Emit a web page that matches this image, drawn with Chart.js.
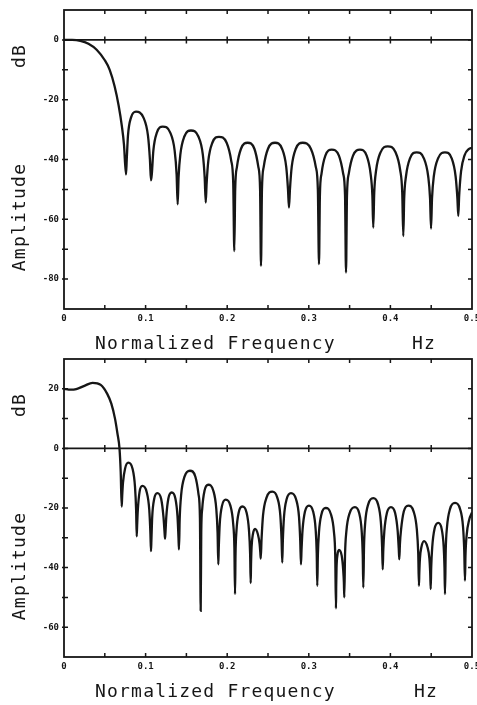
<!DOCTYPE html>
<html><head><meta charset="utf-8">
<script src="https://cdn.jsdelivr.net/npm/chart.js@4"></script>
<style>
html,body{margin:0;padding:0;background:#fff;}
#wrap{position:relative;width:477px;height:705px;overflow:hidden;background:#fff;}
canvas{position:absolute;left:0;}
</style></head><body>
<div id="wrap">
<canvas id="c1" width="477" height="355" style="top:0;width:477px;height:355px"></canvas>
<canvas id="c2" width="477" height="350" style="top:355px;width:477px;height:350px"></canvas>
</div>
<script>
// ---------- data ----------
const xTickLabels = [0, 0.1, 0.2, 0.3, 0.4, 0.5];
const xMinorTicks = [0.05, 0.1, 0.15, 0.2, 0.25, 0.3, 0.35, 0.4, 0.45];

const yTickLabelsTop = [0, -20, -40, -60, -80];
const yMinorTicksTop = [0, -10, -20, -30, -40, -50, -60, -70, -80];
const yTickLabelsBot = [20, 0, -20, -40, -60];
const yMinorTicksBot = [20, 10, 0, -10, -20, -30, -40, -50, -60];

const freqTop = [0, 0.01, 0.02, 0.03, 0.04, 0.05, 0.056, 0.062, 0.067, 0.071, 0.0735,
0.0760, 0.0769, 0.0784, 0.0821, 0.0882, 0.0974, 0.1029, 0.1053,
0.1066, 0.1076, 0.1095, 0.1138, 0.1210, 0.1302, 0.1356, 0.1380,
0.1393, 0.1404, 0.1426, 0.1475, 0.1556, 0.1647, 0.1701, 0.1724,
0.1737, 0.1748, 0.1769, 0.1818, 0.1899, 0.1993, 0.2049, 0.2074,
0.2087, 0.2098, 0.2120, 0.2169, 0.2251, 0.2333, 0.2381, 0.2403,
0.2414, 0.2426, 0.2448, 0.2500, 0.2586, 0.2672, 0.2723, 0.2745,
0.2757, 0.2769, 0.2791, 0.2841, 0.2925, 0.3025, 0.3085, 0.3111,
0.3125, 0.3136, 0.3156, 0.3203, 0.3281, 0.3369, 0.3421, 0.3444,
0.3456, 0.3468, 0.3490, 0.3542, 0.3627, 0.3709, 0.3757, 0.3779,
0.3790, 0.3802, 0.3825, 0.3879, 0.3967, 0.4063, 0.4120, 0.4145,
0.4158, 0.4169, 0.4191, 0.4240, 0.4322, 0.4410, 0.4463, 0.4486,
0.4498, 0.4510, 0.4532, 0.4584, 0.4669, 0.4751, 0.4799, 0.4821,
0.4832, 0.4843, 0.4866, 0.4910, 0.4960, 0.5000];

const dbTop = [0, 0, -0.3, -1.3, -3.3, -6.8, -10, -15.5, -22, -29, -35,
-45, -40, -32, -26, -24, -26, -32, -40,
-47, -45, -37, -31, -29, -31, -37, -45,
-55, -46, -38.3, -32.3, -30.3, -32.3, -38.3, -46,
-54.4, -48, -40.4, -34.4, -32.4, -34.4, -40.4, -48,
-70.6, -50, -42.4, -36.4, -34.4, -36.4, -42.4, -50,
-75.6, -50, -42.4, -36.4, -34.4, -36.4, -42.4, -50,
-56.1, -50, -42.4, -36.4, -34.4, -36.4, -42.4, -50,
-75, -52, -44.7, -38.7, -36.7, -38.7, -44.7, -52,
-77.8, -52, -44.7, -38.7, -36.7, -38.7, -44.7, -52,
-62.8, -51, -43.6, -37.6, -35.6, -37.6, -43.6, -51,
-65.6, -53, -45.6, -39.6, -37.6, -39.6, -45.6, -53,
-63.1, -53, -45.6, -39.6, -37.6, -39.6, -45.6, -53,
-58.9, -52, -44, -38.5, -36.5, -36.1];

const freqBot = [0, 0.008, 0.015, 0.025, 0.035, 0.045, 0.053, 0.058, 0.0625, 0.0655, 0.068, 0.0695,
0.0707, 0.0713, 0.0723, 0.0748, 0.0788, 0.0840, 0.0870, 0.0884,
0.0891, 0.0896, 0.0905, 0.0926, 0.0960, 0.1013, 0.1045, 0.1059,
0.1066, 0.1071, 0.1081, 0.1105, 0.1143, 0.1191, 0.1219, 0.1232,
0.1238, 0.1244, 0.1254, 0.1279, 0.1320, 0.1365, 0.1391, 0.1403,
0.1409, 0.1418, 0.1436, 0.1477, 0.1544, 0.1610, 0.1649, 0.1666,
0.1675, 0.1682, 0.1694, 0.1722, 0.1768, 0.1830, 0.1866, 0.1882,
0.1891, 0.1897, 0.1909, 0.1937, 0.1982, 0.2039, 0.2073, 0.2088,
0.2096, 0.2102, 0.2114, 0.2141, 0.2185, 0.2237, 0.2267, 0.2281,
0.2288, 0.2292, 0.2299, 0.2315, 0.2341, 0.2376, 0.2397, 0.2406,
0.2411, 0.2421, 0.2439, 0.2482, 0.2553, 0.2614, 0.2651, 0.2666,
0.2675, 0.2682, 0.2696, 0.2729, 0.2782, 0.2843, 0.2880, 0.2895,
0.2904, 0.2911, 0.2924, 0.2953, 0.3002, 0.3053, 0.3084, 0.3097,
0.3104, 0.3111, 0.3125, 0.3156, 0.3207, 0.3270, 0.3308, 0.3324,
0.3333, 0.3336, 0.3340, 0.3351, 0.3370, 0.3403, 0.3422, 0.3430,
0.3435, 0.3444, 0.3461, 0.3501, 0.3566, 0.3617, 0.3648, 0.3661,
0.3668, 0.3677, 0.3692, 0.3729, 0.3790, 0.3848, 0.3883, 0.3898,
0.3906, 0.3913, 0.3926, 0.3957, 0.4007, 0.4058, 0.4089, 0.4102,
0.4109, 0.4117, 0.4131, 0.4164, 0.4219, 0.4285, 0.4324, 0.4341,
0.4350, 0.4354, 0.4362, 0.4381, 0.4412, 0.4453, 0.4478, 0.4488,
0.4494, 0.4500, 0.4513, 0.4541, 0.4587, 0.4628, 0.4653, 0.4663,
0.4669, 0.4678, 0.4694, 0.4731, 0.4792, 0.4853, 0.4890, 0.4905,
0.4914, 0.4920, 0.4935, 0.4965, 0.5000];

const dbBot = [20, 19.7, 19.9, 21, 22, 21.3, 18.3, 15, 10, 5, 0, -8,
-19.5, -16, -11.5, -6.8, -4.8, -6.8, -12.8, -20.8,
-29.5, -26, -20.6, -14.6, -12.6, -14.6, -20.6, -28.6,
-34.5, -31, -23, -17, -15, -17, -23, -28,
-30.3, -28, -22.8, -16.8, -14.8, -16.8, -22.8, -30,
-33.9, -23.5, -15.5, -9.5, -7.5, -9.5, -15.5, -23.5,
-54.5, -28.2, -20.2, -14.2, -12.2, -14.2, -20.2, -28.2,
-38.9, -33.2, -25.2, -19.2, -17.2, -19.2, -25.2, -33.2,
-48.9, -35.5, -27.5, -21.5, -19.5, -21.5, -27.5, -35.5,
-45.2, -39, -33, -28.8, -27, -28.8, -32, -35,
-37, -30.5, -22.5, -16.5, -14.5, -16.5, -22.5, -30.5,
-38.3, -31, -23, -17, -15, -17, -23, -31,
-38.9, -34, -27.2, -21.2, -19.2, -21.2, -27.2, -35.2,
-46.1, -36, -28, -22, -20, -22, -28, -36,
-53.7, -46, -40, -35.8, -34.1, -36, -41, -45,
-50, -35.7, -27.7, -21.7, -19.7, -21.7, -27.7, -35.7,
-46.7, -32.7, -24.7, -18.7, -16.7, -18.7, -24.7, -32.7,
-40.6, -34, -27.7, -21.7, -19.7, -21.7, -27.7, -33.5,
-37.2, -32, -27.2, -21.2, -19.2, -21.2, -27.2, -35.2,
-46.1, -42, -37, -33, -31.1, -33, -37, -42,
-47.2, -40, -33, -27, -25, -27, -33, -40,
-48.9, -34.3, -26.3, -20.3, -18.3, -20.3, -26.3, -34.3,
-44.4, -36, -29, -24, -21.5];

const xTitle = 'Normalized Frequency';
const xUnit = 'Hz';
const yTitle = 'Amplitude';
const yUnit = 'dB';

// ---------- drawing ----------
const INK = '#161616';
const MONO = '"DejaVu Sans Mono", "Liberation Mono", monospace';

const framePlugin = {
  id: 'frame',
  afterDatasetsDraw(chart, args, o) {
    const {ctx, chartArea: a, scales: {x, y}} = chart;
    ctx.save();
    ctx.strokeStyle = INK;
    ctx.lineWidth = 1.8;
    ctx.strokeRect(a.left, a.top, a.right - a.left, a.bottom - a.top);
    const y0 = y.getPixelForValue(0);
    ctx.beginPath();
    ctx.moveTo(a.left, y0); ctx.lineTo(a.right, y0);
    ctx.stroke();
    ctx.lineWidth = 1.5;
    ctx.beginPath();
    for (const v of xMinorTicks) {
      const px = x.getPixelForValue(v);
      ctx.moveTo(px, a.top); ctx.lineTo(px, a.top + 4);
      ctx.moveTo(px, a.bottom); ctx.lineTo(px, a.bottom - 4);
      ctx.moveTo(px, y0 - 3.5); ctx.lineTo(px, y0 + 3.5);
    }
    for (const v of o.yMinor) {
      const py = y.getPixelForValue(v);
      ctx.moveTo(a.left - 2, py); ctx.lineTo(a.left + 4, py);
      ctx.moveTo(a.right, py); ctx.lineTo(a.right - 4, py);
    }
    ctx.stroke();
    ctx.restore();
  },
  afterDraw(chart, args, o) {
    const {ctx, chartArea: a} = chart;
    ctx.save();
    ctx.fillStyle = INK;
    ctx.font = '18px ' + MONO;
    try { ctx.letterSpacing = '1.2px'; } catch (e) {}
    ctx.textBaseline = 'middle';
    ctx.textAlign = 'left';
    ctx.fillText(xTitle, o.titleX, a.bottom + 35);
    ctx.fillText(xUnit, o.unitX, a.bottom + 35);
    ctx.translate(20, 0);
    ctx.rotate(-Math.PI / 2);
    ctx.textAlign = 'center';
    ctx.fillText(yTitle, -(a.top + 207), 0);
    ctx.fillText(yUnit, -(a.top + 46), 0);
    ctx.restore();
  }
};

function fmt(v) {
  if (v === 0) return '0';
  return Number.isInteger(v) ? String(v) : v.toFixed(1);
}

function makeChart(id, freq, db, yMin, yMax, yLabels, yMinor, padTop, xAxisH, unitX) {
  return new Chart(document.getElementById(id), {
    type: 'line',
    data: {
      datasets: [{
        data: freq.map((f, i) => ({x: f, y: db[i]})),
        borderColor: INK,
        borderWidth: 2.3,
        pointRadius: 0,
        cubicInterpolationMode: 'monotone',
        fill: false
      }]
    },
    options: {
      responsive: false,
      animation: false,
      devicePixelRatio: 1,
      layout: {padding: {left: 0, right: 5, top: padTop, bottom: 0}},
      plugins: {
        legend: {display: false},
        tooltip: {enabled: false},
        frame: {yMinor: yMinor, titleX: 95, unitX: unitX}
      },
      scales: {
        x: {
          type: 'linear', min: 0, max: 0.5,
          grid: {display: false, drawTicks: false},
          border: {display: false},
          ticks: {
            font: {family: MONO, size: 9, weight: 'bold'},
            color: INK, padding: 4, maxRotation: 0, autoSkip: false,
            callback: fmt
          },
          afterBuildTicks: s => { s.ticks = xTickLabels.map(v => ({value: v})); },
          afterFit: s => { s.height = xAxisH; s.paddingLeft = 0; s.paddingRight = 0; }
        },
        y: {
          type: 'linear', min: yMin, max: yMax,
          grid: {display: false, drawTicks: false},
          border: {display: false},
          ticks: {
            font: {family: MONO, size: 9, weight: 'bold'},
            color: INK, padding: 5, autoSkip: false,
            callback: fmt
          },
          afterBuildTicks: s => { s.ticks = yLabels.map(v => ({value: v})); },
          afterFit: s => { s.width = 64; s.paddingTop = 0; s.paddingBottom = 0; }
        }
      }
    },
    plugins: [framePlugin]
  });
}

makeChart('c1', freqTop, dbTop, -90, 10, yTickLabelsTop, yMinorTicksTop, 10, 46, 412);
makeChart('c2', freqBot, dbBot, -70, 30, yTickLabelsBot, yMinorTicksBot, 4, 48, 414);
</script>
</body></html>
